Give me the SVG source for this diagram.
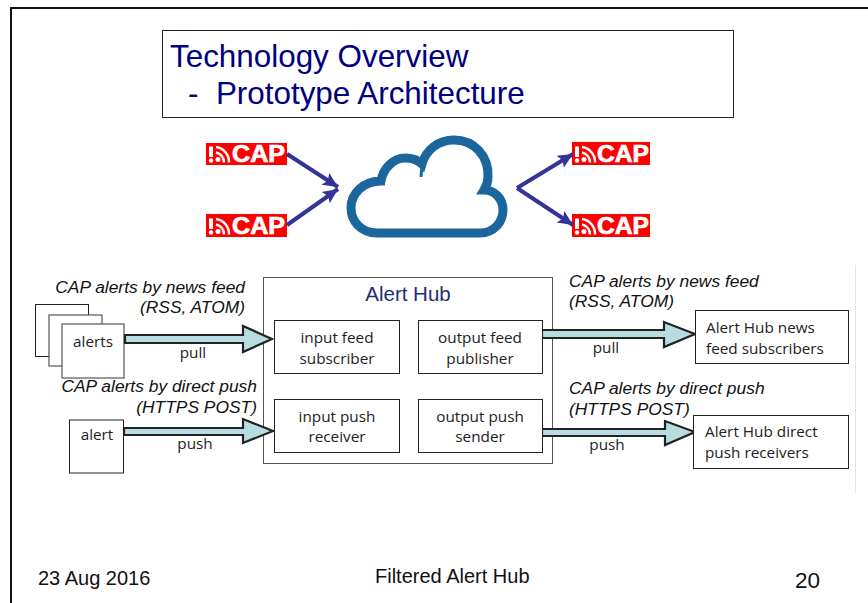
<svg xmlns="http://www.w3.org/2000/svg" width="868" height="603" viewBox="0 0 868 603">
<style>
text{font-family:"Liberation Sans",Arial,sans-serif;fill:#111}
.b{font-family:"Open Sans","Noto Sans",sans-serif;font-size:15.300px;fill:#222;text-anchor:middle}
.l{font-family:"Open Sans","Noto Sans",sans-serif;font-size:15.300px;fill:#222}
.i{font-style:italic;font-size:17.400px}
.e{text-anchor:end}
.box{fill:#fff;stroke:#222;stroke-width:1}
.grey{fill:#fff;stroke:#555;stroke-width:1.2}
.big{fill:#b7dde0;stroke:#222;stroke-width:2.200;stroke-linejoin:miter}
.blue{fill:none;stroke:#333399;stroke-width:4}
.cap{font-weight:bold;font-size:23px;fill:#fff;stroke:#fff;stroke-width:.7}
.w{fill:none;stroke:#fff;stroke-width:2.400}
</style>
<defs>
<marker id="a" markerUnits="userSpaceOnUse" markerWidth="16" markerHeight="16" refX="15" refY="8" orient="auto"><path d="M0 1L15 8L0 15L3 8Z" fill="#333399"/></marker>
<g id="logo"><path d="M5 3.500L5 14" stroke="#fff" stroke-width="4" fill="none"/><circle cx="5" cy="17.500" r="2.200" fill="#fff"/><path class="w" d="M10 4A15 15 0 0 1 23 19.500M10 9.500A10 10 0 0 1 18 19.500"/><circle cx="12" cy="16.500" r="2.500" fill="#fff"/></g>
</defs>
<rect width="868" height="603" fill="#fff"/>
<path d="M868 8H11V603" fill="none" stroke="#111" stroke-width="2"/>
<line x1="855.500" y1="265" x2="855.500" y2="493" stroke="#e4e4e4" stroke-width="1"/>
<g id="title"><rect x="162.500" y="30.500" width="571" height="87" fill="#fff" stroke="#222" stroke-width="1"/>
<text x="170" y="67" font-size="31.400" style="fill:#000080">Technology Overview</text>
<text x="188" y="104" font-size="31.400" style="fill:#000080" xml:space="preserve">-  Prototype Architecture</text></g>
<g id="cap1"><rect x="206" y="143" width="81" height="22" fill="#f00"/><use href="#logo" x="206" y="143"/><text class="cap" x="232" y="162" textLength="53" lengthAdjust="spacingAndGlyphs">CAP</text></g>
<g id="cap2"><rect x="206" y="214" width="81" height="23" fill="#f00"/><use href="#logo" x="206" y="215"/><text class="cap" x="232" y="234" textLength="53" lengthAdjust="spacingAndGlyphs">CAP</text></g>
<g id="cap3"><rect x="572" y="142" width="78" height="23" fill="#f00"/><use href="#logo" x="572" y="143"/><text class="cap" x="597" y="162" textLength="52" lengthAdjust="spacingAndGlyphs">CAP</text></g>
<g id="cap4"><rect x="572" y="214" width="78" height="23" fill="#f00"/><use href="#logo" x="572" y="215"/><text class="cap" x="597" y="234" textLength="52" lengthAdjust="spacingAndGlyphs">CAP</text></g>
<g id="cloud"><path d="M377 233C361 233 351 221 351 208C351 193 364 181 381 181C383 168 394 158 405 158C412 158 418 160 422 164C426 150 438 140 454 140C474 140 489 156 488 177C488 181 487 185 484 190C494 190 503 198 503 210C503 222 494 233 480 233Z" fill="#fff" stroke="#1b679d" stroke-width="9"/><path d="M422 164L421 177" stroke="#1b679d" stroke-width="3" fill="none"/></g>
<g id="hub"><rect x="263.500" y="277.500" width="289" height="186" fill="#fff" stroke="#555" stroke-width="1"/><text x="408" y="301" text-anchor="middle" font-size="20.500" style="fill:#1f2f6f">Alert Hub</text></g>
<g id="alerts"><rect class="box" x="35.500" y="304.500" width="53" height="52"/><rect class="grey" x="49" y="315" width="53" height="51"/><rect class="grey" x="62" y="324" width="62" height="54"/><text class="b" x="93" y="347">alerts</text></g>
<g id="alert"><rect class="box" x="69.500" y="420" width="54" height="53"/><text class="b" x="97" y="440">alert</text></g>
<g id="connectors">
<path class="blue" d="M287 154L338 187" marker-end="url(#a)"/>
<path class="blue" d="M287 225L338 189" marker-end="url(#a)"/>
<path class="blue" d="M517 188L573 154" marker-end="url(#a)"/>
<path class="blue" d="M517 188L573 225" marker-end="url(#a)"/>
<path class="big" d="M125 335H243V326L272 339L243 352V343H125Z"/>
<path class="big" d="M124 428H243V419L273 431L243 443V435H124Z"/>
<path class="big" d="M542 330H664V322L695 334L664 347V338H542Z"/>
<path class="big" d="M542 429H665V421L695 432L665 445V436H542Z"/>
</g>
<g id="feedsub"><rect class="box" x="274.500" y="320.500" width="125" height="53"/><text class="b" x="337" y="343">input feed</text><text class="b" x="337" y="364">subscriber</text></g>
<g id="feedpub"><rect class="box" x="418.500" y="320.500" width="124" height="53"/><text class="b" x="480" y="343">output feed</text><text class="b" x="480" y="364">publisher</text></g>
<g id="pushrec"><rect class="box" x="274.500" y="399.500" width="125" height="53"/><text class="b" x="337" y="422">input push</text><text class="b" x="337" y="442">receiver</text></g>
<g id="pushsend"><rect class="box" x="418.500" y="399.500" width="124" height="53"/><text class="b" x="480" y="422">output push</text><text class="b" x="480" y="442">sender</text></g>
<g id="newssub"><rect class="box" x="695.500" y="310.500" width="153" height="53"/><text class="l" x="706" y="333">Alert Hub news</text><text class="l" x="706" y="354">feed subscribers</text></g>
<g id="directrec"><rect class="box" x="693.500" y="415.500" width="155" height="53"/><text class="l" x="705" y="437">Alert Hub direct</text><text class="l" x="705" y="458">push receivers</text></g>
<g id="labels">
<text class="i e" x="245" y="293">CAP alerts by news feed</text>
<text class="i e" x="245" y="313">(RSS, ATOM)</text>
<text class="i e" x="257" y="392">CAP alerts by direct push</text>
<text class="i e" x="257" y="413">(HTTPS POST)</text>
<text class="i" x="569" y="287">CAP alerts by news feed</text>
<text class="i" x="569" y="307">(RSS, ATOM)</text>
<text class="i" x="569" y="394">CAP alerts by direct push</text>
<text class="i" x="569" y="415">(HTTPS POST)</text>
<text class="b" x="193" y="358">pull</text>
<text class="b" x="195" y="449">push</text>
<text class="b" x="606" y="353">pull</text>
<text class="b" x="607" y="450">push</text>
</g>
<g id="footer">
<text x="38" y="585" font-size="20">23 Aug 2016</text>
<text x="375" y="583" font-size="20">Filtered Alert Hub</text>
<text x="795" y="588" font-size="22.500">20</text>
</g>
</svg>
